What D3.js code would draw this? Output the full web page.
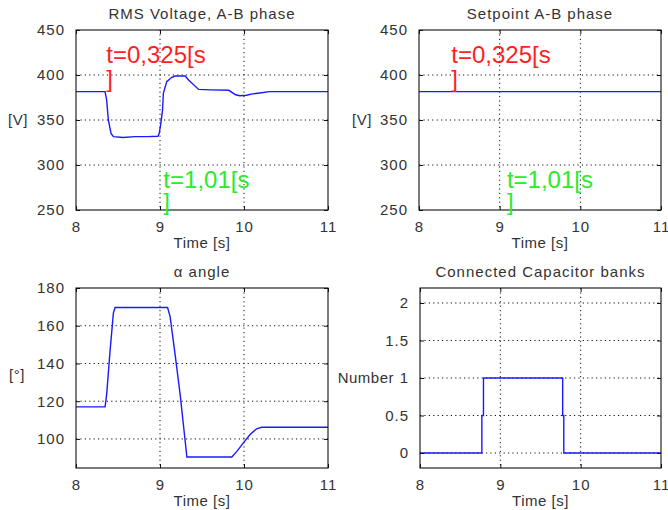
<!DOCTYPE html>
<html>
<head>
<meta charset="utf-8">
<script src="https://cdn.jsdelivr.net/npm/d3@7"></script>
<style>
  body { margin: 0; background: #fff; }
  svg text { font-family: "Liberation Sans", Arial, sans-serif; fill: #333; }
  .tick-label { font-size: 15px; letter-spacing: 1px; }
  .title { font-size: 15px; letter-spacing: 1px; }
  .xlabel, .ylabel { font-size: 15px; letter-spacing: 0.5px; }
  .grid { stroke: #111; stroke-width: 1; stroke-dasharray: 1.2,3.2; }
  .frame { fill: none; stroke: #111; stroke-width: 1.1; }
  .series { fill: none; stroke: #1a1aff; stroke-width: 1.4; }
  .note { font-size: 24px; letter-spacing: 0; }
</style>
</head>
<body>
<div id="chart"></div>
<script>
// time axis shared by all panels
var timeTicks = [8, 9, 10, 11]

// RMS voltage A-B phase
var voltTime   = [8, 8.346, 8.365, 8.385, 8.417, 8.445, 8.56, 8.7, 8.85, 8.975, 8.99, 9.01, 9.03, 9.04, 9.08, 9.14, 9.18, 9.3, 9.34, 9.46, 9.6, 9.82, 9.86, 9.9, 9.95, 10.03, 10.1, 10.23, 10.3, 11]
var voltValues = [381.5, 381.5, 372, 350, 335, 331.5, 330.5, 331.5, 331.5, 332, 335, 346, 361, 379.6, 392.6, 397.4, 398.9, 398.9, 394.4, 384, 383.5, 383, 380.5, 378, 377, 377.5, 379, 380.5, 381.5, 381.5]
var voltTicks  = [250, 300, 350, 400, 450]

// setpoint A-B phase
var setTime   = [8, 11]
var setValues = [381.5, 381.5]

// alpha angle
var alphaTime   = [8, 8.346, 8.365, 8.405, 8.445, 8.465, 8.6, 9.09, 9.12, 9.18, 9.24, 9.3, 9.32, 9.6, 9.855, 9.915, 9.99, 10.07, 10.15, 10.21, 11]
var alphaValues = [117, 117, 123.5, 146.4, 166.7, 169.7, 169.7, 169.7, 165, 144.7, 123.5, 98.7, 90.4, 90.4, 90.4, 93.4, 97.8, 102.2, 105.4, 106.2, 106.2]
var alphaTicks  = [100, 120, 140, 160, 180]

// connected capacitor banks
var capTime   = [8, 8.77, 8.77, 8.79, 8.79, 9.776, 9.776, 9.79, 9.79, 11]
var capValues = [0, 0, 0.5, 0.5, 1, 1, 0.5, 0.5, 0, 0]
var capTicks  = [0, 0.5, 1, 1.5, 2]

// text annotations on the voltage panels
var noteRedText   = ["t=0,325[s", "]"]
var noteGreenText = ["t=1,01[s", "]"]

var width = 668, height = 510

var svg = d3.select('#chart').append('svg')
    .attr('width', width)
    .attr('height', height)

function drawPanel(p) {
    var x = d3.scaleLinear().domain([8, 11]).range([p.left, p.right])
    var y = d3.scaleLinear().domain(p.ydomain).range([p.bottom, p.top])
    var g = svg.append('g')

    // grid
    g.selectAll('.gx').data(timeTicks.slice(1, -1)).enter().append('line')
        .attr('class', 'grid')
        .attr('x1', function(d){return x(d)}).attr('x2', function(d){return x(d)})
        .attr('y1', p.top).attr('y2', p.bottom)
    g.selectAll('.gy').data(p.yticks.filter(function(d){return y(d) > p.top + 1 && y(d) < p.bottom - 1})).enter().append('line')
        .attr('class', 'grid')
        .attr('x1', p.left).attr('x2', p.right)
        .attr('y1', function(d){return y(d)}).attr('y2', function(d){return y(d)})

    // data line
    var pts = d3.zip(p.t, p.v)
    g.append('path')
        .attr('class', 'series')
        .attr('d', d3.line().x(function(d){return x(d[0])}).y(function(d){return y(d[1])})(pts))

    // axes (ticks inside, labels outside)
    var xa = d3.axisBottom(x).tickValues(timeTicks).tickSize(-4).tickPadding(10).tickFormat(d3.format('d'))
    var ya = d3.axisLeft(y).tickValues(p.yticks).tickSize(-4).tickPadding(11).tickFormat(p.fmt)
    var xg = g.append('g').attr('transform', 'translate(0,' + p.bottom + ')').call(xa)
    var yg = g.append('g').attr('transform', 'translate(' + p.left + ',0)').call(ya)
    g.append('g').attr('transform', 'translate(0,' + p.top + ')')
        .call(d3.axisTop(x).tickValues(timeTicks).tickSize(-4).tickFormat(''))
    g.append('g').attr('transform', 'translate(' + p.right + ',0)')
        .call(d3.axisRight(y).tickValues(p.yticks).tickSize(-4).tickFormat(''))
    g.selectAll('.domain').remove()
    g.selectAll('.tick line').attr('stroke', '#111')
    xg.selectAll('text').attr('class', 'tick-label').attr('font-size', null).attr('font-family', null).attr('dy', '0.78em')
    yg.selectAll('text').attr('class', 'tick-label').attr('font-size', null).attr('font-family', null)

    g.append('rect').attr('class', 'frame')
        .attr('x', p.left).attr('y', p.top)
        .attr('width', p.right - p.left).attr('height', p.bottom - p.top)

    // titles and labels
    g.append('text').attr('class', 'title')
        .attr('x', (p.left + p.right) / 2).attr('y', p.top - 11)
        .attr('text-anchor', 'middle').text(p.title)
    g.append('text').attr('class', 'xlabel')
        .attr('x', (p.left + p.right) / 2).attr('y', p.bottom + 38)
        .attr('text-anchor', 'middle').text('Time [s]')
    g.append('text').attr('class', 'ylabel')
        .attr('x', p.ylabelX).attr('y', y(p.ylabelY) + 5)
        .attr('text-anchor', p.ylabelAnchor || 'middle').text(p.ylabel)

    // annotations
    if (p.notes) {
        p.notes.forEach(function(n) {
            n.lines.forEach(function(s, i) {
                g.append('text').attr('class', 'note')
                    .attr('x', x(n.t)).attr('y', y(n.v) + i * n.gap)
                    .style('fill', n.color).text(s)
            })
        })
    }
}

drawPanel({
    left: 76, right: 328, top: 30, bottom: 210,
    ydomain: [250, 450], yticks: voltTicks, fmt: d3.format('d'),
    t: voltTime, v: voltValues,
    title: 'RMS Voltage, A-B phase', ylabel: '[V]', ylabelX: 18, ylabelY: 350,
    notes: [
        {t: 8.36, v: 413, lines: noteRedText, gap: 24, color: '#ff1f1f'},
        {t: 9.04, v: 274, lines: noteGreenText, gap: 22, color: '#2aea2a'}
    ]
})

drawPanel({
    left: 419, right: 661, top: 30, bottom: 210,
    ydomain: [250, 450], yticks: voltTicks, fmt: d3.format('d'),
    t: setTime, v: setValues,
    title: 'Setpoint A-B phase', ylabel: '[V]', ylabelX: 362, ylabelY: 350,
    notes: [
        {t: 8.40, v: 413, lines: noteRedText, gap: 24, color: '#ff1f1f'},
        {t: 9.09, v: 274, lines: noteGreenText, gap: 22, color: '#2aea2a'}
    ]
})

drawPanel({
    left: 76, right: 328, top: 288, bottom: 468,
    ydomain: [84.6, 180], yticks: alphaTicks, fmt: d3.format('d'),
    t: alphaTime, v: alphaValues,
    title: '\u03b1 angle', ylabel: '[\u00b0]', ylabelX: 17, ylabelY: 134
})

drawPanel({
    left: 420, right: 661, top: 288, bottom: 468,
    ydomain: [-0.2, 2.2], yticks: capTicks, fmt: function(d){return String(d)},
    t: capTime, v: capValues,
    title: 'Connected Capacitor banks', ylabel: 'Number', ylabelX: 394, ylabelY: 1, ylabelAnchor: 'end'
})
</script>
</body>
</html>
